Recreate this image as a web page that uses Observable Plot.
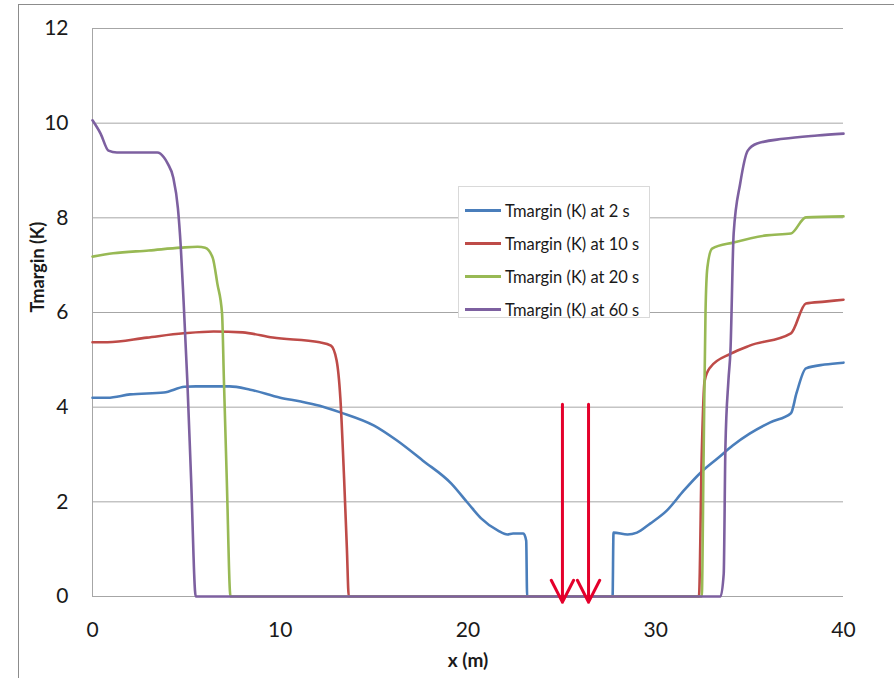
<!DOCTYPE html>
<html><head><meta charset="utf-8">
<script src="https://cdn.jsdelivr.net/npm/d3@7"></script>
<script src="https://cdn.jsdelivr.net/npm/@observablehq/plot@0.6"></script>
<style>
body{margin:0;background:#fff;overflow:hidden}
#wrap{position:relative;width:894px;height:678px;overflow:hidden}
#frame{position:absolute;left:18px;top:4px;width:900px;height:700px;border:1px solid #8c8c8c}
#chart{position:absolute;left:0;top:0}
#legend{position:absolute;left:458px;top:186px;width:192px;height:132px;border:1px solid #d9d9d9;background:#fff;box-sizing:border-box;font-family:Lato,sans-serif;font-size:16.5px;color:#1a1a1a;padding-top:7px}
.row{display:flex;align-items:center;height:33px;margin-left:6px}
.sw{width:36px;height:3px;margin-right:4px;flex:none}
</style></head>
<body>
<div id="wrap"><div id="frame"></div><div id="chart"></div><div id="legend"></div></div>
<script>
const seriesNames = ["Tmargin (K) at 2 s","Tmargin (K) at 10 s","Tmargin (K) at 20 s","Tmargin (K) at 60 s"];
const seriesColors = ["#4A7EBB","#BE4B48","#98B954","#7D60A0"];

const x2s = [0,0.8,2,3.8,4.9,5.5,7.3,8.4,10.0,11.1,12.1,13.2,15.0,16.2,17.6,19.1,20.0,20.7,21.6,22.1,22.4,22.95,23.1,23.15,27.7,27.75,28.5,29.0,29.7,30.6,31.5,32.4,33.3,34.1,35.0,36.1,37.2,37.5,38.0,39.0,40];
const y2s = [4.20,4.20,4.27,4.31,4.43,4.44,4.44,4.37,4.20,4.12,4.03,3.89,3.61,3.30,2.87,2.39,1.97,1.65,1.39,1.31,1.33,1.33,1.18,0,0,1.35,1.31,1.35,1.54,1.82,2.24,2.62,2.92,3.19,3.44,3.68,3.87,4.3,4.82,4.90,4.94];

const x10s = [0,0.8,2.9,4.85,6.45,8.0,9.6,12.1,12.7,13.0,13.2,13.4,13.55,13.65,32.3,32.45,32.6,32.9,34.0,35.0,37.2,38.0,39.0,40];
const y10s = [5.37,5.37,5.47,5.56,5.60,5.58,5.47,5.37,5.30,4.99,4.2,2.5,1.0,0,0,3.0,4.55,4.84,5.13,5.30,5.56,6.19,6.23,6.27];

const x20s = [0,1.1,3,4.7,5.6,6.0,6.4,6.65,6.9,7.0,7.15,7.35,32.45,32.55,32.65,32.75,33.0,34.15,35.9,37.2,38.0,40];
const y20s = [7.18,7.25,7.31,7.37,7.39,7.37,7.16,6.61,5.98,4.56,2.5,0,0,3.0,6.0,6.95,7.35,7.48,7.63,7.67,8.01,8.03];

const x60s = [0,0.43,0.85,1.3,3.45,3.8,4.0,4.3,4.55,4.7,4.85,5.05,5.25,5.5,33.45,33.62,33.71,33.87,33.98,34.15,34.5,34.9,35.4,36.8,38.6,40];
const y60s = [10.06,9.78,9.42,9.38,9.38,9.28,9.15,8.85,8.2,7.4,6.25,4.56,2.5,0,0,0.48,3.15,4.56,5.2,7.67,8.73,9.42,9.57,9.67,9.74,9.78];

const yTicks = [0,2,4,6,8,10,12];
const xTicks = [0,10,20,30,40];
const arrowX = [25.03,26.42];
const arrowTop = 4.06, arrowTip = -0.12;

const xs = [x2s,x10s,x20s,x60s], ys = [y2s,y10s,y20s,y60s];
const data = [];
seriesNames.forEach((name,i)=>xs[i].forEach((x,j)=>data.push({series:name,x,y:ys[i][j]})));
const arrows = arrowX.map(x=>({x, y1:arrowTop, y2:arrowTip}));

const chart = Plot.plot({
  width: 894, height: 678,
  marginLeft: 92, marginRight: 51, marginTop: 28, marginBottom: 82,
  style: {fontFamily: "Lato, sans-serif", fontSize: "21px", color: "#1a1a1a", background: "transparent"},
  x: {domain: [0,40]},
  y: {domain: [0,12]},
  color: {domain: seriesNames, range: seriesColors},
  marks: [
    Plot.ruleY(yTicks, {stroke: "#a6a6a6", strokeWidth: 1}),
    Plot.ruleX([0], {stroke: "#a6a6a6", strokeWidth: 1}),
    Plot.axisY({ticks: yTicks, tickSize: 0, tickPadding: 24, label: null, tickFormat: d3.format("d")}),
    Plot.axisX({ticks: xTicks, tickSize: 0, tickPadding: 26, label: null, tickFormat: d3.format("d")}),
    Plot.line(data, {x: "x", y: "y", z: "series", stroke: "series", strokeWidth: 2.6, curve: "monotone-x"}),
    Plot.arrow(arrows, {x1: "x", x2: "x", y1: "y1", y2: "y2", stroke: "#e4002b", strokeWidth: 3, headLength: 12.3, headAngle: 54}),
    Plot.text(["Tmargin (K)"], {text: d=>d, frameAnchor: "left", rotate: -90, dx: -54, fontWeight: "bold", fontSize: 18}),
    Plot.text(["x (m)"], {text: d=>d, frameAnchor: "bottom", dy: 70, fontWeight: "bold", fontSize: 19})
  ]
});
document.getElementById("chart").appendChild(chart);

const leg = document.getElementById("legend");
seriesNames.forEach((n,i)=>{
  const r = document.createElement("div"); r.className="row";
  const s = document.createElement("div"); s.className="sw"; s.style.background=seriesColors[i];
  const t = document.createElement("span"); t.textContent=n;
  r.appendChild(s); r.appendChild(t); leg.appendChild(r);
});
</script>
</body></html>
